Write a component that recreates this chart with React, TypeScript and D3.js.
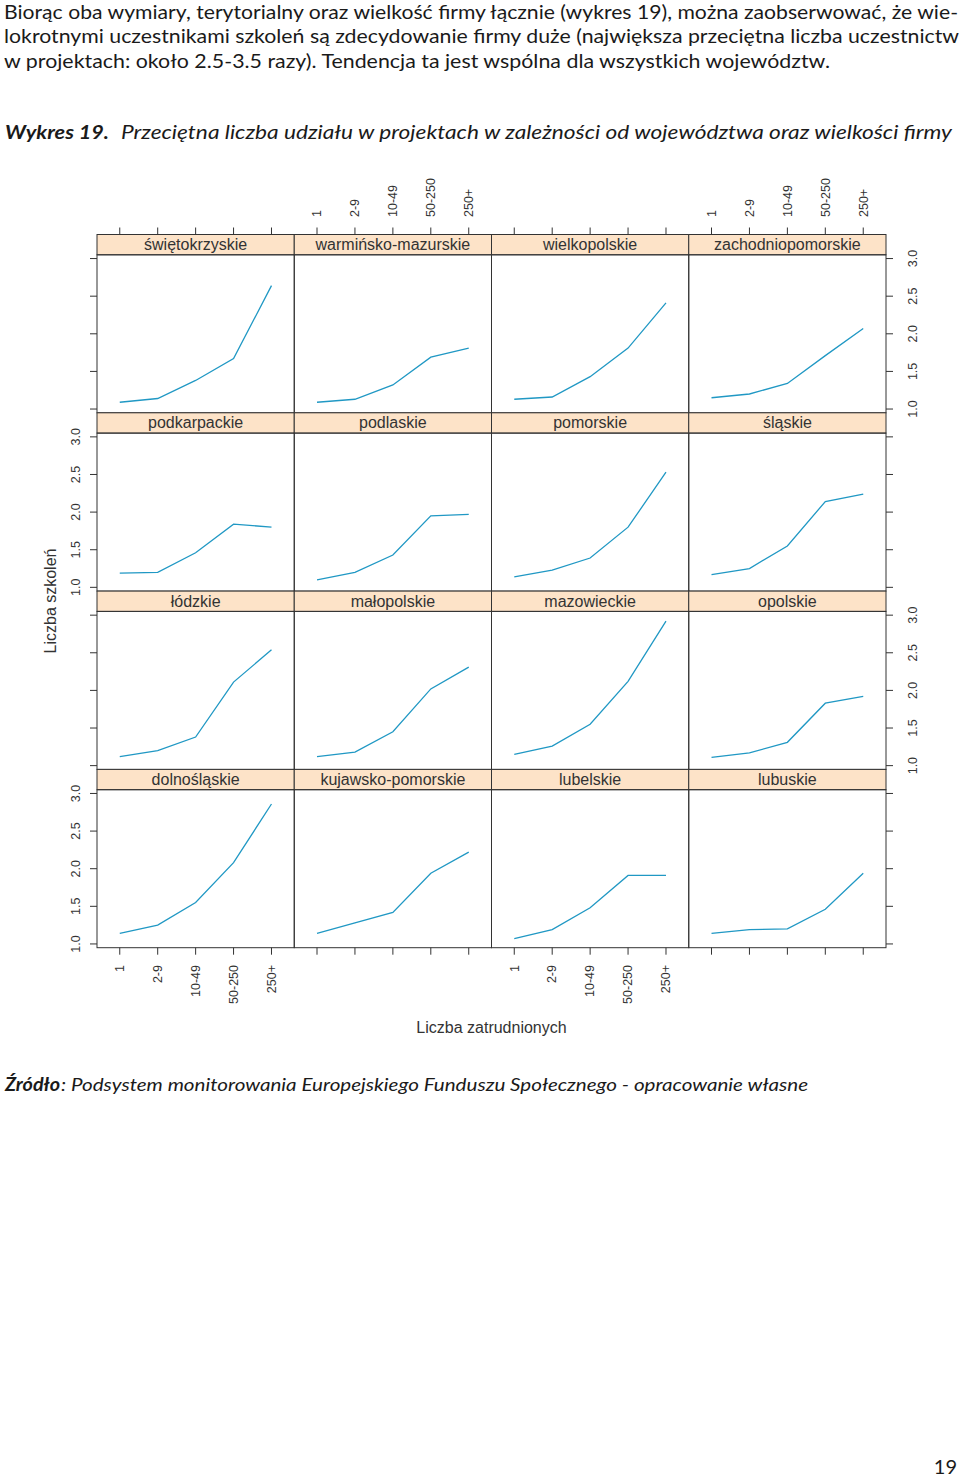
import React from 'react';
import * as d3 from 'd3';

// ---------- data ----------
const sizeCategories = ['1', '2-9', '10-49', '50-250', '250+'];
const yTickValues = [1.0, 1.5, 2.0, 2.5, 3.0];

const swietokrzyskie = [1.09, 1.14, 1.38, 1.67, 2.64];
const warminskoMazurskie = [1.09, 1.13, 1.32, 1.69, 1.81];
const wielkopolskie = [1.13, 1.16, 1.43, 1.81, 2.41];
const zachodniopomorskie = [1.15, 1.2, 1.34, 1.71, 2.07];

const podkarpackie = [1.19, 1.2, 1.46, 1.84, 1.8];
const podlaskie = [1.1, 1.2, 1.43, 1.95, 1.97];
const pomorskie = [1.14, 1.23, 1.39, 1.8, 2.53];
const slaskie = [1.17, 1.25, 1.55, 2.14, 2.24];

const lodzkie = [1.12, 1.2, 1.38, 2.11, 2.54];
const malopolskie = [1.12, 1.18, 1.45, 2.02, 2.31];
const mazowieckie = [1.15, 1.26, 1.55, 2.12, 2.92];
const opolskie = [1.11, 1.17, 1.31, 1.83, 1.92];

const dolnoslaskie = [1.14, 1.25, 1.55, 2.08, 2.86];
const kujawskoPomorskie = [1.14, 1.28, 1.42, 1.94, 2.22];
const lubelskie = [1.07, 1.19, 1.48, 1.91, 1.91];
const lubuskie = [1.14, 1.19, 1.2, 1.46, 1.94];

// panel grid, top row first
const panelRows: { name: string; values: number[] }[][] = [
  [
    { name: 'świętokrzyskie', values: swietokrzyskie },
    { name: 'warmińsko-mazurskie', values: warminskoMazurskie },
    { name: 'wielkopolskie', values: wielkopolskie },
    { name: 'zachodniopomorskie', values: zachodniopomorskie },
  ],
  [
    { name: 'podkarpackie', values: podkarpackie },
    { name: 'podlaskie', values: podlaskie },
    { name: 'pomorskie', values: pomorskie },
    { name: 'śląskie', values: slaskie },
  ],
  [
    { name: 'łódzkie', values: lodzkie },
    { name: 'małopolskie', values: malopolskie },
    { name: 'mazowieckie', values: mazowieckie },
    { name: 'opolskie', values: opolskie },
  ],
  [
    { name: 'dolnośląskie', values: dolnoslaskie },
    { name: 'kujawsko-pomorskie', values: kujawskoPomorskie },
    { name: 'lubelskie', values: lubelskie },
    { name: 'lubuskie', values: lubuskie },
  ],
];

// ---------- layout ----------
const W = 960;
const H = 1478;
const gridLeft = 97;
const gridRight = 886;
const colW = (gridRight - gridLeft) / 4;
const gridTop = 234.5;
const stripH = 20.3;
const plotH = 158;
const rowStep = stripH + plotH;
const tickLen = 7;

const LINE_COLOR = '#2098c4';
const AXIS_COLOR = '#333333';
const STRIP_FILL = '#fde3c8';
const CHART_FONT = '"Liberation Sans", Arial, sans-serif';
const BODY_FONT = 'Lato, "Open Sans", sans-serif';

export default function App() {
  const x = d3.scalePoint<string>().domain(sizeCategories).range([0, colW]).padding(0.6);
  const y = d3.scaleLinear().domain([0.95, 3.05]).range([plotH, 0]);
  const line = d3
    .line<number>()
    .x((_, i) => x(sizeCategories[i]) as number)
    .y((d) => y(d));

  const gridBottom = gridTop + 4 * rowStep;

  return (
    <svg
      width={W}
      height={H}
      viewBox={`0 0 ${W} ${H}`}
      style={{ position: 'absolute', left: 0, top: 0, background: '#fff' }}
    >
      <rect x={0} y={0} width={W} height={H} fill="#fff" />

      {/* ---------- body text ---------- */}
      <g fontFamily={BODY_FONT} fontSize={19} fill="#1a1a1a">
        <text x={4} y={18.5} textLength={954} lengthAdjust="spacingAndGlyphs">
          Biorąc oba wymiary, terytorialny oraz wielkość firmy łącznie (wykres 19), można zaobserwować, że wie-
        </text>
        <text x={4} y={43} textLength={955} lengthAdjust="spacingAndGlyphs">
          lokrotnymi uczestnikami szkoleń są zdecydowanie firmy duże (największa przeciętna liczba uczestnictw
        </text>
        <text x={4} y={67.5} textLength={826} lengthAdjust="spacingAndGlyphs">
          w projektach: około 2.5-3.5 razy). Tendencja ta jest wspólna dla wszystkich województw.
        </text>
        <text x={5} y={138.5} fontWeight="bold" fontStyle="italic" textLength={104} lengthAdjust="spacingAndGlyphs">
          Wykres 19.
        </text>
        <text x={121} y={138.5} fontStyle="italic" textLength={831} lengthAdjust="spacingAndGlyphs">
          Przeciętna liczba udziału w projektach w zależności od województwa oraz wielkości firmy
        </text>
        <text x={5} y={1091} fontSize={18} fontWeight="bold" fontStyle="italic" textLength={55} lengthAdjust="spacingAndGlyphs">
          Źródło
        </text>
        <text x={61} y={1091} fontSize={18} fontStyle="italic" textLength={747} lengthAdjust="spacingAndGlyphs">
          : Podsystem monitorowania Europejskiego Funduszu Społecznego - opracowanie własne
        </text>
        <text x={957} y={1474} fontSize={20} textAnchor="end">
          19
        </text>
      </g>

      {/* ---------- panels ---------- */}
      <g fontFamily={CHART_FONT} fill="#333">
        {panelRows.map((row, r) =>
          row.map((panel, c) => {
            const px = gridLeft + c * colW;
            const sy = gridTop + r * rowStep;
            const py = sy + stripH;
            return (
              <g key={panel.name}>
                <rect x={px} y={sy} width={colW} height={stripH} fill={STRIP_FILL} stroke={AXIS_COLOR} strokeWidth={1} />
                <text x={px + colW / 2} y={sy + 15.5} fontSize={16} textAnchor="middle" fill="#333">
                  {panel.name}
                </text>
                <rect x={px} y={py} width={colW} height={plotH} fill="none" stroke={AXIS_COLOR} strokeWidth={1} />
                <g transform={`translate(${px},${py})`}>
                  <path d={line(panel.values) || ''} fill="none" stroke={LINE_COLOR} strokeWidth={1.3} />
                </g>
              </g>
            );
          })
        )}

        {/* x axis ticks top & bottom */}
        {[0, 1, 2, 3].map((c) => {
          const px = gridLeft + c * colW;
          return (
            <g key={'xt' + c}>
              {sizeCategories.map((cat) => {
                const tx = px + (x(cat) as number);
                return (
                  <g key={cat}>
                    <line x1={tx} x2={tx} y1={gridTop} y2={gridTop - tickLen} stroke={AXIS_COLOR} />
                    <line x1={tx} x2={tx} y1={gridBottom} y2={gridBottom + tickLen} stroke={AXIS_COLOR} />
                    {c % 2 === 1 ? (
                      <text transform={`translate(${tx + 4.3},${217}) rotate(-90)`} fontSize={12.5} textAnchor="start">
                        {cat}
                      </text>
                    ) : (
                      <text transform={`translate(${tx + 4.3},${965}) rotate(-90)`} fontSize={12.5} textAnchor="end">
                        {cat}
                      </text>
                    )}
                  </g>
                );
              })}
            </g>
          );
        })}

        {/* y axis ticks left & right */}
        {[0, 1, 2, 3].map((r) => {
          const py = gridTop + r * rowStep + stripH;
          return (
            <g key={'yt' + r}>
              {yTickValues.map((v) => {
                const ty = py + y(v);
                return (
                  <g key={v}>
                    <line x1={gridLeft} x2={gridLeft - tickLen} y1={ty} y2={ty} stroke={AXIS_COLOR} />
                    <line x1={gridRight} x2={gridRight + tickLen} y1={ty} y2={ty} stroke={AXIS_COLOR} />
                    {r % 2 === 1 ? (
                      <text transform={`translate(${80},${ty}) rotate(-90)`} fontSize={12.5} textAnchor="middle">
                        {v.toFixed(1)}
                      </text>
                    ) : (
                      <text transform={`translate(${917},${ty}) rotate(-90)`} fontSize={12.5} textAnchor="middle">
                        {v.toFixed(1)}
                      </text>
                    )}
                  </g>
                );
              })}
            </g>
          );
        })}

        {/* axis titles */}
        <text x={(gridLeft + gridRight) / 2} y={1033} fontSize={16} textAnchor="middle">
          Liczba zatrudnionych
        </text>
        <text transform={`translate(56,601) rotate(-90)`} fontSize={16} textAnchor="middle">
          Liczba szkoleń
        </text>
      </g>
    </svg>
  );
}
